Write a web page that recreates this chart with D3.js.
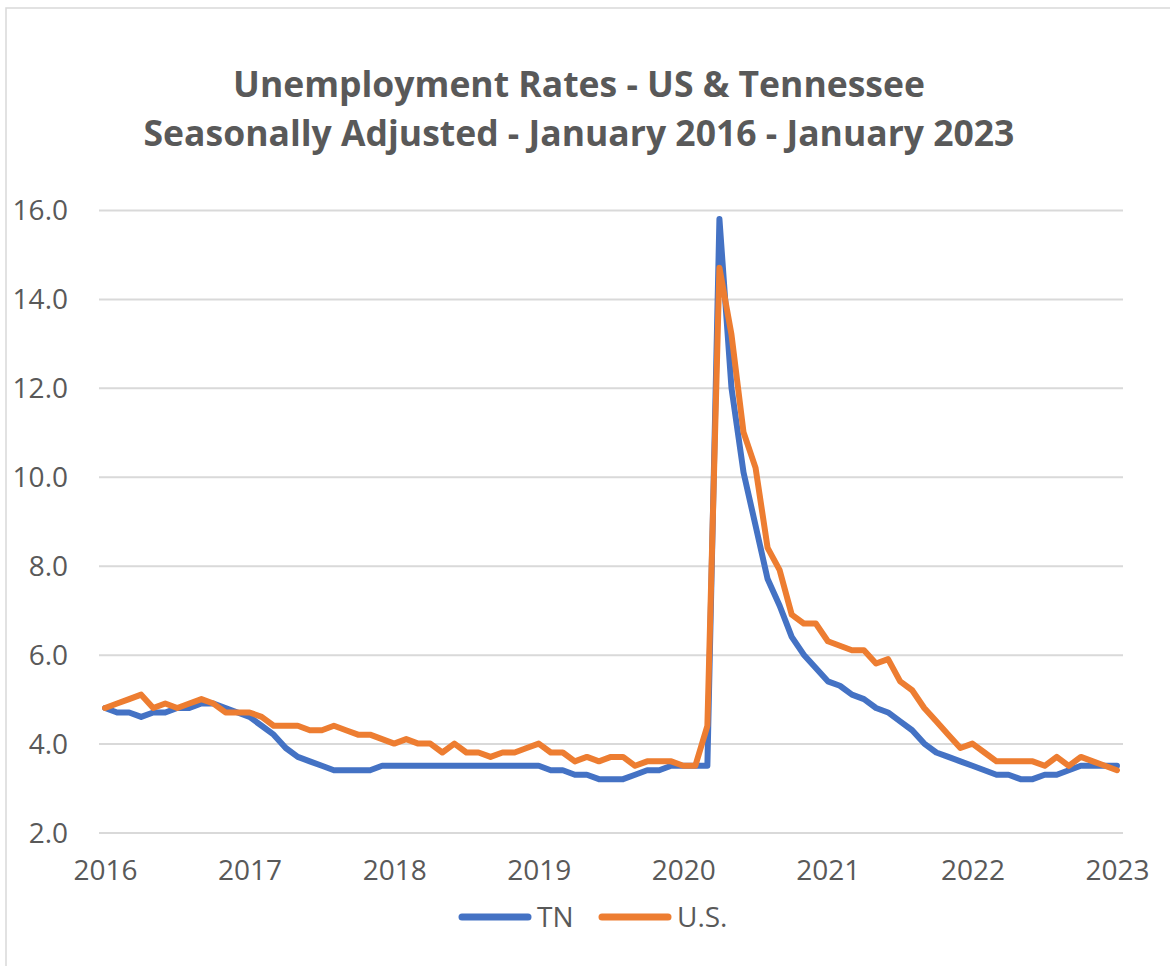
<!DOCTYPE html>
<html>
<head>
<meta charset="utf-8">
<script src="https://cdn.jsdelivr.net/npm/d3@7"></script>
<style>
  html, body { margin: 0; padding: 0; background: #fff; }
  svg { display: block; }
  text { font-family: "Open Sans", sans-serif; fill: #595959; }
</style>
</head>
<body>
<svg id="chart" width="1170" height="966"></svg>
<script>
// Months Jan 2016 .. Jan 2023
const months = d3.timeMonth.range(new Date(2016, 0, 1), new Date(2023, 1, 1)).map(d3.timeFormat("%Y-%m"));

const tnValues = [
  4.8, 4.7, 4.7, 4.6, 4.7, 4.7, 4.8, 4.8, 4.9, 4.9, 4.8, 4.7,
  4.6, 4.4, 4.2, 3.9, 3.7, 3.6, 3.5, 3.4, 3.4, 3.4, 3.4, 3.5,
  3.5, 3.5, 3.5, 3.5, 3.5, 3.5, 3.5, 3.5, 3.5, 3.5, 3.5, 3.5,
  3.5, 3.4, 3.4, 3.3, 3.3, 3.2, 3.2, 3.2, 3.3, 3.4, 3.4, 3.5,
  3.5, 3.5, 3.5, 15.8, 12.0, 10.1, 8.9, 7.7, 7.1, 6.4, 6.0, 5.7,
  5.4, 5.3, 5.1, 5.0, 4.8, 4.7, 4.5, 4.3, 4.0, 3.8, 3.7, 3.6,
  3.5, 3.4, 3.3, 3.3, 3.2, 3.2, 3.3, 3.3, 3.4, 3.5, 3.5, 3.5,
  3.5
];

const usValues = [
  4.8, 4.9, 5.0, 5.1, 4.8, 4.9, 4.8, 4.9, 5.0, 4.9, 4.7, 4.7,
  4.7, 4.6, 4.4, 4.4, 4.4, 4.3, 4.3, 4.4, 4.3, 4.2, 4.2, 4.1,
  4.0, 4.1, 4.0, 4.0, 3.8, 4.0, 3.8, 3.8, 3.7, 3.8, 3.8, 3.9,
  4.0, 3.8, 3.8, 3.6, 3.7, 3.6, 3.7, 3.7, 3.5, 3.6, 3.6, 3.6,
  3.5, 3.5, 4.4, 14.7, 13.2, 11.0, 10.2, 8.4, 7.9, 6.9, 6.7, 6.7,
  6.3, 6.2, 6.1, 6.1, 5.8, 5.9, 5.4, 5.2, 4.8, 4.5, 4.2, 3.9,
  4.0, 3.8, 3.6, 3.6, 3.6, 3.6, 3.5, 3.7, 3.5, 3.7, 3.6, 3.5,
  3.4
];

const xTickLabels = ["2016", "2017", "2018", "2019", "2020", "2021", "2022", "2023"];
const yTicks = [2, 4, 6, 8, 10, 12, 14, 16];
const seriesNames = ["TN", "U.S."];
const titleLines = ["Unemployment Rates - US & Tennessee", "Seasonally Adjusted - January 2016 - January 2023"];

const colors = { "TN": "#4472C4", "U.S.": "#ED7D31" };
const series = [
  { name: seriesNames[0], values: tnValues },
  { name: seriesNames[1], values: usValues }
];

const svg = d3.select("#chart");

// Chart frame
svg.append("rect")
  .attr("x", 6).attr("y", 8)
  .attr("width", 1200).attr("height", 1000)
  .attr("fill", "#fff")
  .attr("stroke", "#D9D9D9")
  .attr("stroke-width", 1.5);

// Title
svg.append("g").selectAll("text")
  .data(titleLines)
  .join("text")
  .attr("x", 579)
  .attr("y", (d, i) => 97 + i * 49)
  .attr("text-anchor", "middle")
  .attr("font-size", 35.5)
  .attr("font-weight", 700)
  .text(d => d);

const plot = { left: 99, right: 1123, top: 210, bottom: 832.5 };

const x = d3.scalePoint()
  .domain(months)
  .range([plot.left, plot.right])
  .padding(0.5);

const y = d3.scaleLinear()
  .domain([2, 16])
  .range([plot.bottom, plot.top]);

// Gridlines + y labels via axis
const yAxis = d3.axisLeft(y)
  .tickValues(yTicks)
  .tickSize(-(plot.right - plot.left))
  .tickPadding(31)
  .tickFormat(d3.format(".1f"));

const gy = svg.append("g")
  .attr("transform", `translate(${plot.left},0)`)
  .call(yAxis);
gy.select(".domain").remove();
gy.selectAll(".tick line").attr("stroke", "#D9D9D9").attr("stroke-width", 2);
gy.selectAll(".tick text")
  .attr("font-size", 28)
  .attr("fill", "#595959")
  .attr("font-family", "'Open Sans', sans-serif")
  .attr("dy", "0.35em");

// X axis labels
const xTickMonths = xTickLabels.map(yr => yr + "-01");
const xAxis = d3.axisBottom(x)
  .tickValues(xTickMonths)
  .tickSize(0)
  .tickPadding(28)
  .tickFormat((d, i) => xTickLabels[i]);

const gx = svg.append("g")
  .attr("transform", `translate(0,${plot.bottom})`)
  .call(xAxis);
gx.select(".domain").remove();
gx.selectAll(".tick text")
  .attr("font-size", 28)
  .attr("fill", "#595959")
  .attr("font-family", "'Open Sans', sans-serif");

// Lines
const line = d3.line()
  .x((d, i) => x(months[i]))
  .y(d => y(d));

svg.append("g").selectAll("path")
  .data(series)
  .join("path")
  .attr("fill", "none")
  .attr("stroke", d => colors[d.name])
  .attr("stroke-width", 6)
  .attr("stroke-linejoin", "round")
  .attr("stroke-linecap", "round")
  .attr("d", d => line(d.values));

// Legend
const legendItems = [
  { name: seriesNames[0], x1: 462, x2: 528, tx: 537 },
  { name: seriesNames[1], x1: 602, x2: 668, tx: 677 }
];
const lg = svg.append("g");
lg.selectAll("line")
  .data(legendItems)
  .join("line")
  .attr("x1", d => d.x1).attr("x2", d => d.x2)
  .attr("y1", 917).attr("y2", 917)
  .attr("stroke", d => colors[d.name])
  .attr("stroke-width", 7)
  .attr("stroke-linecap", "round");
lg.selectAll("text")
  .data(legendItems)
  .join("text")
  .attr("x", d => d.tx)
  .attr("y", 927)
  .attr("font-size", 28)
  .text(d => d.name);
</script>
</body>
</html>
